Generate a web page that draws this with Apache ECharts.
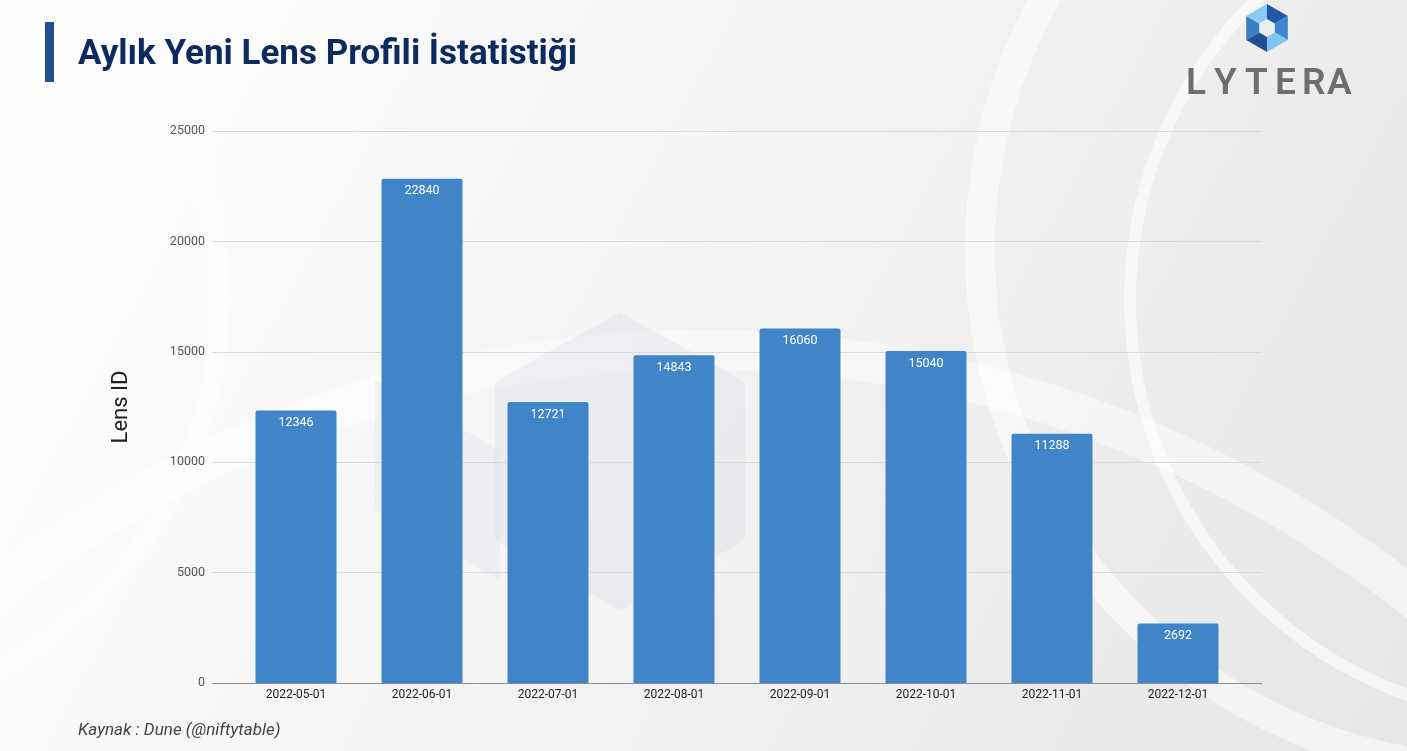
<!DOCTYPE html>
<html>
<head>
<meta charset="utf-8">
<title>Aylık Yeni Lens Profili İstatistiği</title>
<script src="https://cdn.jsdelivr.net/npm/echarts@6/dist/echarts.min.js"></script>
<style>
  html, body { margin: 0; padding: 0; }
  #chart { width: 1407px; height: 751px; }
</style>
</head>
<body>
<div id="chart"></div>
<script>
// aylar ve yeni profil sayilari
var months = ['2022-05-01', '2022-06-01', '2022-07-01', '2022-08-01', '2022-09-01', '2022-10-01', '2022-11-01', '2022-12-01']
var newProfiles = [12346, 22840, 12721, 14843, 16060, 15040, 11288, 2692]
var yMax = 25000
var yStep = 5000

var myChart = echarts.init(document.getElementById('chart'))

// arka plan kavisleri
function arc (cx, cy, r, w, op) {
  return {
    type: 'circle', silent: true, z: -9,
    shape: {cx: cx, cy: cy, r: r},
    style: {fill: 'none', stroke: '#ffffff', lineWidth: w, opacity: op}
  }
}

// logo altigeni
function hexPts (cx, cy, r, rot) {
  var pts = []
  for (var i = 0; i < 6; i++) {
    var a = (Math.PI / 3) * i + rot
    pts.push([cx + r * Math.cos(a), cy + r * Math.sin(a)])
  }
  return pts
}
var outer = hexPts(1267, 28, 24, -Math.PI / 2)
var inner = hexPts(1267, 28, 9, -Math.PI / 2)
var logoColors = ['#1f5aa6', '#3d86cf', '#7fc4ef', '#1d4f94', '#3a7fc7', '#8acbf1']
var logoParts = []
for (var i = 0; i < 6; i++) {
  var j = (i + 1) % 6
  logoParts.push({
    type: 'polygon', silent: true,
    shape: {points: [outer[i], outer[j], inner[j], inner[i]]},
    style: {fill: logoColors[i]}
  })
}

// LYTERA harfleri (aralikli)
var logoLetters = ['L', 'Y', 'T', 'E', 'R', 'A']
var letterX = [1186, 1214, 1245, 1275, 1302, 1327]
var letterParts = logoLetters.map(function (ch, k) {
  return {
    type: 'text', silent: true, x: letterX[k], y: 66,
    style: {text: ch, fill: '#6e6e6e', font: '600 37px Roboto, sans-serif'}
  }
})

var option = {
  backgroundColor: {
    type: 'linear', x: 0, y: 0, x2: 1, y2: 1,
    colorStops: [
      {offset: 0, color: '#ffffff'},
      {offset: 0.45, color: '#f4f4f4'},
      {offset: 1, color: '#e6e6e6'}
    ]
  },
  textStyle: {fontFamily: 'Roboto, sans-serif'},
  graphic: [
    arc(1500, 250, 520, 30, 0.5),
    arc(1550, 300, 420, 12, 0.6),
    arc(700, 1500, 1150, 40, 0.45),
    arc(-200, 300, 420, 20, 0.4),
    {
      // silik kup
      type: 'polygon', silent: true, z: -8,
      shape: {points: [[620, 312], [745, 382], [745, 540], [620, 610], [495, 540], [495, 382]]},
      style: {fill: '#dde2ea', opacity: 0.45}
    },
    {
      type: 'polygon', silent: true, z: -8,
      shape: {points: [[375, 380], [500, 450], [500, 580], [375, 510]]},
      style: {fill: '#dfe3ea', opacity: 0.35}
    },
    {
      type: 'rect', left: 45, top: 22, silent: true,
      shape: {width: 9, height: 60},
      style: {fill: '#1f4f8c'}
    },
    {
      type: 'text', left: 78, top: 38, silent: true,
      style: {
        text: 'Aylık Yeni Lens Profili İstatistiği',
        fill: '#0c2a5e',
        font: 'bold 35px Roboto, sans-serif'
      }
    },
    {
      type: 'text', left: 78, top: 722, silent: true,
      style: {
        text: 'Kaynak : Dune (@niftytable)',
        fill: '#444444',
        font: 'italic 17px Roboto, sans-serif'
      }
    },
    {
      type: 'group', silent: true,
      children: logoParts
    },
    {
      type: 'group', silent: true,
      children: letterParts
    }
  ],
  grid: [
    {left: 233, right: 166, top: 131, bottom: 68},
    {left: 212, right: 145, top: 131, bottom: 68}
  ],
  xAxis: [
    {
      type: 'category',
      gridIndex: 0,
      data: months,
      axisLine: {show: false},
      axisTick: {show: false},
      axisLabel: {color: '#222', fontSize: 12, margin: 6}
    },
    {
      type: 'value',
      gridIndex: 1,
      show: false
    }
  ],
  yAxis: [
    {
      type: 'value',
      gridIndex: 0,
      min: 0,
      max: yMax,
      interval: yStep,
      show: false
    },
    {
      type: 'value',
      gridIndex: 1,
      min: 0,
      max: yMax,
      interval: yStep,
      name: 'Lens ID',
      nameLocation: 'middle',
      nameRotate: 90,
      nameGap: 80,
      nameTextStyle: {color: '#222', fontSize: 22},
      axisLine: {show: false},
      axisTick: {show: false},
      axisLabel: {color: '#555', fontSize: 12.5, margin: 7, formatter: function (v) { return String(v) }},
      splitLine: {
        lineStyle: {color: ['#8c8c8c', '#dadada', '#dadada', '#dadada', '#dadada', '#dadada'], width: 1}
      }
    }
  ],
  series: [
    {
      name: 'Lens ID',
      type: 'bar',
      xAxisIndex: 0,
      yAxisIndex: 0,
      data: newProfiles,
      barWidth: 81,
      itemStyle: {color: '#4085c7', borderRadius: [2, 2, 0, 0]},
      label: {
        show: true,
        position: 'insideTop',
        distance: 6,
        color: '#ffffff',
        fontSize: 12.5
      }
    }
  ]
}
myChart.setOption(option, true)
</script>
</body>
</html>
